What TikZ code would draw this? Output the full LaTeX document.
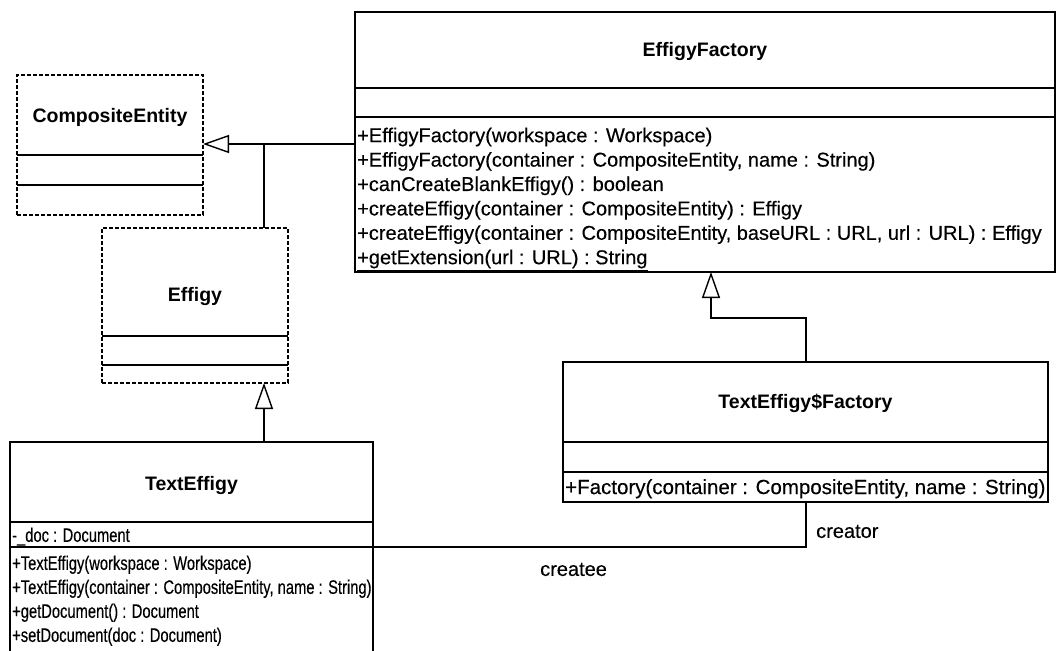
\documentclass[tikz,border=0pt]{standalone}
\usepackage{fontspec}
\setmainfont{Liberation Sans}
\newfontfamily\memberfont[FakeBold=0.3]{Liberation Sans}
\newfontfamily\narrowfont[FakeStretch=0.755, FakeBold=0.3]{Liberation Sans}
\newfontfamily\rolefont[FakeBold=0.3]{Liberation Sans}
\usetikzlibrary{arrows.meta}
\usetikzlibrary{calc}
\tikzset{classbox/.style={draw, line width=2bp, inner sep=0pt, outer sep=0pt}}
\tikzset{abstractbox/.style={classbox, dash pattern=on 4bp off 2bp}}
\tikzset{sepline/.style={line width=2bp}}
\tikzset{classname/.style={font=\fontsize{19.5bp}{22bp}\selectfont\bfseries, inner sep=0pt}}
\tikzset{members/.style={anchor=north west, align=left, inner sep=0pt, font=\memberfont\fontsize{20bp}{24.4bp}\selectfont}}
\tikzset{narrowmembers/.style={members, font=\narrowfont\fontsize{19.5bp}{24bp}\selectfont}}
\tikzset{generalize/.style={line width=1.4bp, -{Triangle[open, length=26bp, width=18bp, line width=1.4bp]}}}
\tikzset{assoc/.style={line width=1.4bp}}
\tikzset{rolename/.style={font=\rolefont\fontsize{20bp}{24bp}\selectfont, inner sep=0pt, anchor=west}}

\begin{document}
\begin{tikzpicture}[x=1bp, y=-1bp]
\useasboundingbox (0,0) rectangle (1058,651);
\clip (0,0) rectangle (1058,651);

% CompositeEntity
\node[abstractbox, minimum width=186bp, minimum height=140bp] (ce) at (110,145) {};
\node[classname] (cename) at (110,117) {CompositeEntity};
\draw[sepline] (17,155) -- ++(186,0);
\draw[sepline] (17,185) -- ++(186,0);

% Effigy
\node[abstractbox, minimum width=186bp, minimum height=155bp] (ef) at (195,305.5) {};
\node[classname] (efname) at (195,297) {Effigy};
\draw[sepline] (102,336) -- ++(186,0);
\draw[sepline] (102,365) -- ++(186,0);

% EffigyFactory
\node[classbox, minimum width=700bp, minimum height=260bp] (fac) at (705,142) {};
\node[classname] (facname) at (705,52) {EffigyFactory};
\draw[sepline] (355,88) -- ++(700,0);
\draw[sepline] (355,117) -- ++(700,0);
\node[members] (facops) at (357,127.5) {+EffigyFactory(workspace : Workspace)\\
  +EffigyFactory(container : CompositeEntity, name : String)\\
  +canCreateBlankEffigy() : boolean\\
  +createEffigy(container : CompositeEntity) : Effigy\\
  +createEffigy(container : CompositeEntity, baseURL : URL, url : URL) : Effigy\\
  \underline{+getExtension(url : URL) : String}};

% TextEffigy$Factory
\node[classbox, minimum width=485bp, minimum height=140bp] (tf) at (805.5,432) {};
\node[classname] (tfname) at (805.5,403) {TextEffigy\$Factory};
\draw[sepline] (563,442) -- ++(485,0);
\draw[sepline] (563,472) -- ++(485,0);
\node[members, font=\memberfont\fontsize{20.5bp}{24.4bp}\selectfont] (tfops) at (565,479) {+Factory(container : CompositeEntity, name : String)};

% TextEffigy
\node[classbox, minimum width=363bp, minimum height=258bp] (te) at (191.5,571) {};
\node[classname] (tename) at (191.5,485) {TextEffigy};
\draw[sepline] (10,522) -- ++(363,0);
\draw[sepline] (10,547) -- ++(363,0);
\node[narrowmembers] (teattr) at (12,527.5) {-\_doc : Document};
\node[narrowmembers] (teops) at (12,555.5) {+TextEffigy(workspace : Workspace)\\
  +TextEffigy(container : CompositeEntity, name : String)\\
  +getDocument() : Document\\
  +setDocument(doc : Document)};

% generalizations
\coordinate (cejoin) at (264,144);
\draw[generalize] (ef.north -| cejoin) -- (cejoin) -- (ce.east |- cejoin);
\draw[assoc] (fac.west |- cejoin) -- (cejoin);
\draw[generalize] (te.north -| cejoin) -- (ef.south -| cejoin);
\coordinate (tffoot) at (806,318);
\coordinate (facfoot) at (711,318);
\draw[generalize] (tf.north -| tffoot) -- (tffoot) -- (facfoot) -- (fac.south -| facfoot);

% creator / createe
\coordinate (assocbend) at (806,547);
\draw[assoc] (tf.south -| assocbend) -- (assocbend) -- (te.east |- assocbend);
\node[rolename] (creator) at (816,531.5) {creator};
\node[rolename] (createe) at (540,569.5) {createe};

\end{tikzpicture}
\end{document}
